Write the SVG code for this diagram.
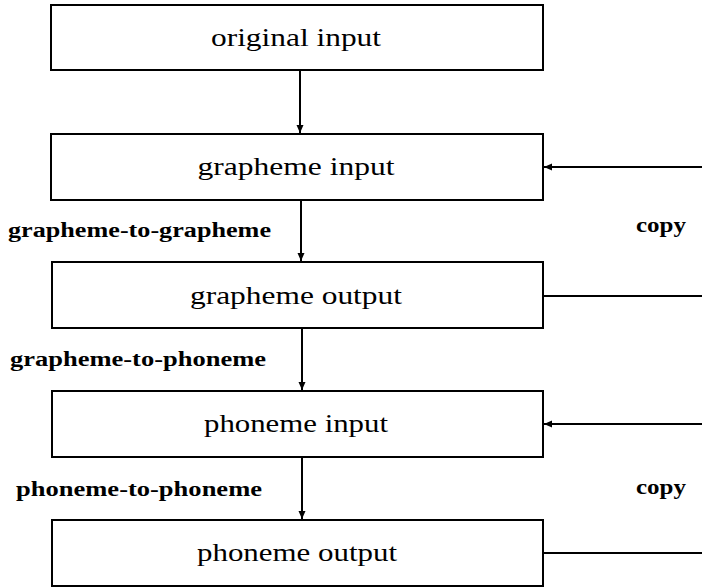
<svg xmlns="http://www.w3.org/2000/svg" width="702" height="588" viewBox="0 0 702 588">
<defs>
<marker id="ah" markerWidth="10" markerHeight="10" refX="8" refY="4.5" orient="auto" markerUnits="userSpaceOnUse">
<path d="M0,1 L8,4.5 L0,8 Z" fill="#000"/>
</marker>
<style>
.box{fill:#fff;stroke:#000;stroke-width:2}
.t{font-family:"Liberation Serif","DejaVu Serif",serif;font-size:26px;text-anchor:middle;fill:#000}
.l{font-family:"Liberation Serif","DejaVu Serif",serif;font-size:20px;font-weight:bold;fill:#000}
.c{stroke:#000;stroke-width:2;fill:none}
</style>
</defs>
<rect width="702" height="588" fill="#fff"/>
<g id="original-input"><rect class="box" x="51" y="5" width="492" height="65"/><text class="t" x="296" y="46" textLength="170" lengthAdjust="spacingAndGlyphs">original input</text></g>
<g id="grapheme-input"><rect class="box" x="51" y="134" width="492" height="66"/><text class="t" x="296" y="175" textLength="197" lengthAdjust="spacingAndGlyphs">grapheme input</text></g>
<g id="grapheme-output"><rect class="box" x="52" y="262" width="491" height="66"/><text class="t" x="296" y="304" textLength="212" lengthAdjust="spacingAndGlyphs">grapheme output</text></g>
<g id="phoneme-input"><rect class="box" x="52" y="391" width="491" height="66"/><text class="t" x="296" y="432" textLength="184" lengthAdjust="spacingAndGlyphs">phoneme input</text></g>
<g id="phoneme-output"><rect class="box" x="52" y="520" width="491" height="66"/><text class="t" x="297" y="561" textLength="200" lengthAdjust="spacingAndGlyphs">phoneme output</text></g>
<g id="labels">
<text class="l" x="8" y="237" textLength="263" lengthAdjust="spacingAndGlyphs">grapheme-to-grapheme</text>
<text class="l" x="10" y="366" textLength="256" lengthAdjust="spacingAndGlyphs">grapheme-to-phoneme</text>
<text class="l" x="16" y="496" textLength="246" lengthAdjust="spacingAndGlyphs">phoneme-to-phoneme</text>
<text class="l" x="636" y="232" textLength="50" lengthAdjust="spacingAndGlyphs">copy</text>
<text class="l" x="636" y="494" textLength="50" lengthAdjust="spacingAndGlyphs">copy</text>
</g>
<g id="connectors">
<line class="c" x1="300" y1="70" x2="300" y2="133" marker-end="url(#ah)"/>
<line class="c" x1="301" y1="200" x2="301" y2="261" marker-end="url(#ah)"/>
<line class="c" x1="302" y1="328" x2="302" y2="390" marker-end="url(#ah)"/>
<line class="c" x1="302" y1="457" x2="302" y2="519" marker-end="url(#ah)"/>
<line class="c" x1="702" y1="167" x2="544" y2="167" marker-end="url(#ah)"/>
<line class="c" x1="543" y1="296" x2="702" y2="296"/>
<line class="c" x1="702" y1="424" x2="544" y2="424" marker-end="url(#ah)"/>
<line class="c" x1="543" y1="553" x2="702" y2="553"/>
</g>
</svg>
